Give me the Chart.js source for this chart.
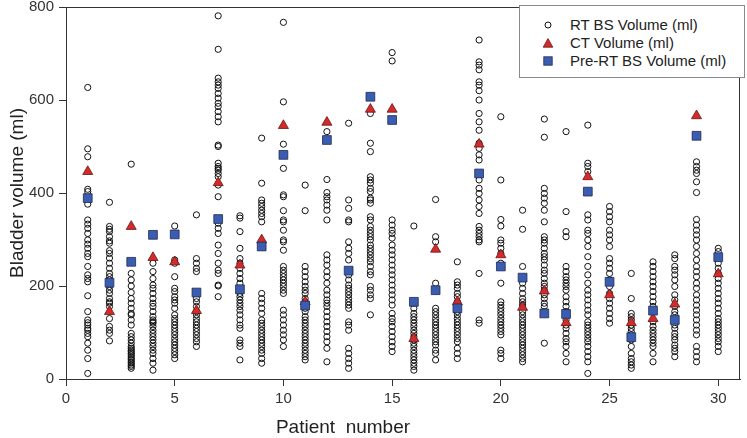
<!DOCTYPE html>
<html>
<head>
<meta charset="utf-8">
<script src="https://cdn.jsdelivr.net/npm/chart.js@4.4.1/dist/chart.umd.min.js"></script>
<style>
  html, body { margin: 0; padding: 0; background: #ffffff; }
  #wrap { position: relative; width: 747px; height: 438px; overflow: hidden; background: #fff; }
  canvas { position: absolute; left: 0; top: 0; }
  #xtitle { position: absolute; left: 243px; width: 200px; top: 416px; text-align: center;
            font-family: "Liberation Sans", Arial, sans-serif; font-size: 19px; color: #222; line-height: 22px; white-space: pre; }
  #legend { position: absolute; left: 519px; top: 5px; width: 226px; height: 73px; background: #fff;
            border: 1px solid #8a8a8a; box-sizing: border-box; font-family: "Liberation Sans", Arial, sans-serif;
            font-size: 15px; color: #222; }
  .row { position: absolute; left: 0; height: 18px; line-height: 18px; }
  .row span.t { position: absolute; left: 50px; top: 0; white-space: nowrap; }
  .mk { position: absolute; }
</style>
</head>
<body>
<div id="wrap">
  <canvas id="c" width="747" height="438"></canvas>
  <div id="xtitle">Patient  number</div>
  <div id="legend">
    <div class="row" style="top:10px"><svg class="mk" style="left:23px;top:4px" width="10" height="10"><circle cx="5" cy="5" r="3" fill="none" stroke="#111" stroke-width="1"/></svg><span class="t">RT BS Volume (ml)</span></div>
    <div class="row" style="top:28px"><svg class="mk" style="left:22px;top:4px" width="12" height="11"><polygon points="6,0.6 10.8,9.2 1.2,9.2" fill="#d42a2a" stroke="#6a1515" stroke-width="0.8"/></svg><span class="t">CT Volume (ml)</span></div>
    <div class="row" style="top:46px"><svg class="mk" style="left:23px;top:4px" width="10" height="10"><rect x="0.8" y="0.8" width="8.4" height="8.4" fill="#3a5db0" stroke="#1e2a55" stroke-width="0.8"/></svg><span class="t">Pre-RT BS Volume (ml)</span></div>
  </div>
</div>
<script>
// ---- data ----
const patients = [1,2,3,4,5,6,7,8,9,10,11,12,13,14,15,16,17,18,19,20,21,22,23,24,25,26,27,28,29,30];
const xTicks = [0,5,10,15,20,25,30];
const yTicks = [0,200,400,600,800];

const ctVolume = [446,145,328,261,252,147,422,245,299,545,166,552,null,580,580,87,279,166,505,267,154,189,121,435,181,121,130,161,566,226];
const preRtBsVolume = [389,207,252,310,311,186,344,193,285,482,158,514,233,607,557,166,191,152,442,242,218,141,140,403,209,90,147,127,523,262];

const rtBsVolume = [
  [627,495,478,408,403,376,342,333,324,313,299,290,281,270,263,242,224,216,209,179,145,127,121,116,109,105,98,91,77,62,44,12],
  [380,328,322,317,306,297,292,276,270,260,249,238,227,220,213,199,191,184,173,166,163,156,130,113,105,98,82],
  [462,227,213,200,186,173,163,152,141,138,127,116,98,91,84,77,70,66,62,59,55,52,48,44,41,37,34,30,27,23],
  [249,231,216,202,195,184,173,163,156,145,134,127,123,120,113,105,98,91,84,77,70,62,55,44,34,19],
  [329,256,249,220,195,188,177,170,163,152,138,130,123,116,109,102,95,87,80,73,66,59,52,44],
  [353,259,249,238,231,184,173,166,156,145,138,130,123,116,109,102,95,87,80,70],
  [781,709,647,639,632,625,614,604,593,586,575,564,553,503,500,464,457,453,449,442,435,417,392,335,324,313,288,270,249,234,227,202,200,177],
  [351,346,317,281,259,249,238,227,216,206,195,184,177,170,163,156,148,138,127,116,109,84,77,70,41],
  [518,421,385,378,371,363,356,349,338,288,184,173,163,152,141,127,120,113,105,98,91,84,77,70,62,55,44,34],
  [767,596,505,453,396,392,362,342,338,320,299,295,277,242,234,227,220,213,206,199,191,184,148,138,127,116,105,95,84,70],
  [417,362,242,231,220,209,199,191,184,173,166,152,145,134,127,120,113,105,98,91,84,77,70,62,55,48,41],
  [532,429,401,392,385,374,363,342,267,256,245,231,220,206,191,181,170,163,156,145,134,123,113,102,91,80,66,37],
  [550,385,367,342,338,295,281,270,256,224,213,202,195,188,181,173,166,159,152,123,116,105,66,55,44,34,23],
  [571,507,489,435,428,421,410,403,389,385,378,349,342,328,320,313,306,299,288,281,274,267,259,252,242,231,224,199,191,181,173,138],
  [702,684,342,331,320,313,303,288,277,267,256,245,234,224,213,202,191,181,170,159,141,130,123,113,102,91,80,70,59],
  [329,163,152,141,134,127,120,113,105,98,91,84,77,70,62,55,48,41,34,27,19],
  [386,306,295,206,191,152,145,138,130,123,116,109,102,95,87,80,73,62,55,41],
  [252,209,202,195,184,177,166,159,152,145,138,130,123,116,109,102,95,87,80,66,55,44],
  [729,682,675,665,639,632,620,600,571,553,535,507,496,482,471,428,410,399,385,371,356,328,320,313,306,299,295,227,127,120],
  [564,428,343,329,299,292,281,270,249,242,206,166,159,152,145,138,130,123,116,109,102,95,62,55,44],
  [363,322,242,206,195,184,173,166,159,145,138,130,123,116,109,102,95,87,80,73,66,59,52,44,37],
  [559,520,410,399,389,378,363,338,306,299,292,281,270,263,256,245,234,227,216,206,199,191,181,173,163,156,145,77],
  [532,360,317,306,242,231,220,213,206,199,191,177,166,156,145,127,116,109,98,87,80,70,55,37],
  [546,464,457,446,353,342,320,313,299,285,263,242,224,206,191,181,170,159,148,138,123,116,109,102,95,87,80,70,59,48,37,12],
  [371,360,349,338,320,310,299,285,259,249,238,227,213,199,184,173,163,152,141,130,120],
  [227,173,141,134,127,116,109,102,95,84,70,55,44,37,30,23],
  [252,242,231,220,209,199,188,177,166,156,123,113,105,98,91,84,77,70,55,37],
  [267,259,242,234,224,213,199,181,170,156,145,138,116,109,98,91,84,73,66,59,48],
  [467,457,449,442,424,401,343,331,320,310,299,285,270,256,242,231,220,206,195,181,170,159,148,138,127,116,105,95,70,59,48,37],
  [281,274,249,238,227,216,206,195,184,173,163,152,141,130,123,116,109,102,95,87,80,70,59]
];

// ---- build chart data ----
const rtPoints = [];
patients.forEach((p, i) => rtBsVolume[i].forEach(v => rtPoints.push({x: p, y: v})));
const ctPoints = patients.map((p, i) => ({x: p, y: ctVolume[i]})).filter(d => d.y !== null);
const prePoints = patients.map((p, i) => ({x: p, y: preRtBsVolume[i]}));

const FONT = '"Liberation Sans", Arial, sans-serif';

const framePlugin = {
  id: 'frame',
  afterDatasetsDraw(chart) {
    const {ctx, chartArea: a} = chart;
    ctx.save();
    ctx.strokeStyle = '#333';
    ctx.lineWidth = 1;
    ctx.beginPath();
    ctx.moveTo(Math.round(a.left) + 0.5, Math.round(a.top) + 0.5);
    ctx.lineTo(Math.round(a.right) - 0.5, Math.round(a.top) + 0.5);
    ctx.lineTo(Math.round(a.right) - 0.5, Math.round(a.bottom) + 0.5);
    ctx.stroke();
    ctx.restore();
  }
};

new Chart(document.getElementById('c'), {
  type: 'scatter',
  data: {
    datasets: [
      { label: 'RT BS Volume (ml)', data: rtPoints, order: 3,
        pointStyle: 'circle', pointRadius: 3.1, pointHoverRadius: 3.1,
        borderColor: '#111', backgroundColor: 'rgba(255,255,255,0)', borderWidth: 1 },
      { label: 'CT Volume (ml)', data: ctPoints, order: 2,
        pointStyle: 'triangle', pointRadius: 5.8, pointHoverRadius: 5.8,
        borderColor: '#6a1515', backgroundColor: '#d42a2a', borderWidth: 0.8 },
      { label: 'Pre-RT BS Volume (ml)', data: prePoints, order: 1,
        pointStyle: 'rect', pointRadius: 6.2, pointHoverRadius: 6.2,
        borderColor: '#1e2a55', backgroundColor: '#3a5db0', borderWidth: 0.8 }
    ]
  },
  options: {
    responsive: false,
    animation: false,
    devicePixelRatio: 1,
    layout: { padding: { left: 0, right: 3, top: 7, bottom: 0 } },
    plugins: { legend: { display: false }, tooltip: { enabled: false } },
    scales: {
      x: {
        type: 'linear', min: 0, max: 31,
        afterFit: s => { s.height = 59; s.paddingLeft = 0; s.paddingRight = 0; },
        afterBuildTicks: s => { s.ticks = xTicks.map(v => ({value: v})); },
        ticks: { stepSize: 5, includeBounds: false, padding: 4, color: '#333',
                 font: { family: FONT, size: 15 }, maxRotation: 0 },
        grid: { display: true, drawOnChartArea: false, drawTicks: true, tickLength: 7, color: '#333' },
        border: { display: true, color: '#333', width: 1 },
        title: { display: false }
      },
      y: {
        type: 'linear', min: 0, max: 800,
        afterFit: s => { s.width = 66; s.paddingTop = 0; s.paddingBottom = 0; },
        afterBuildTicks: s => { s.ticks = yTicks.map(v => ({value: v})); },
        ticks: { stepSize: 200, padding: 5, color: '#333', font: { family: FONT, size: 15 } },
        grid: { display: true, drawOnChartArea: false, drawTicks: true, tickLength: 7, color: '#333' },
        border: { display: true, color: '#333', width: 1 },
        title: { display: true, text: 'Bladder volume (ml)', color: '#222',
                 font: { family: FONT, size: 19 }, padding: { top: 6, bottom: 0 } }
      }
    }
  },
  plugins: [framePlugin]
});
</script>
</body>
</html>
